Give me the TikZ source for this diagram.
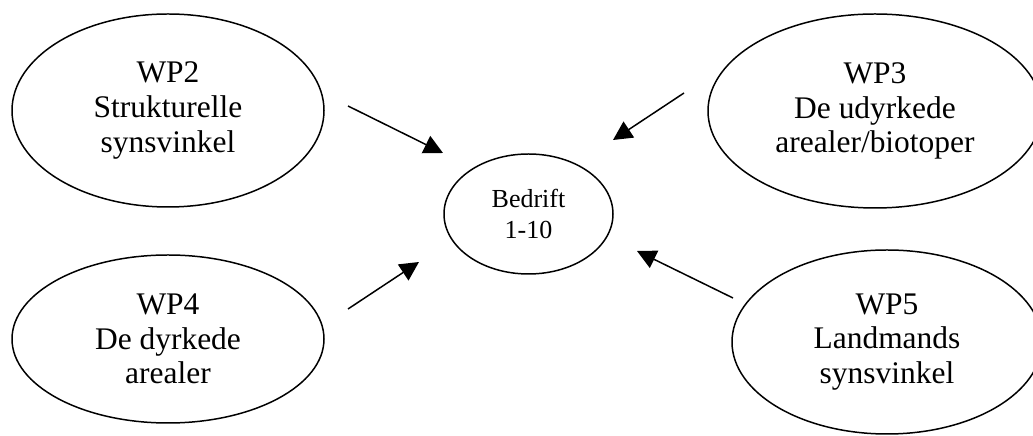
\documentclass[tikz,border=0pt]{standalone}
\usepackage{fontspec}
\setmainfont{Liberation Serif}
\usetikzlibrary{shapes.geometric,arrows.meta}

\begin{document}
\begin{tikzpicture}[
	elip/.style={draw, ellipse, line width=0.85pt, inner sep=0pt, align=center,
		font=\fontsize{17.9pt}{19.8pt}\selectfont},
	muiten/.style={line width=0.85pt, -{Triangle[length=3.8mm,width=3.8mm]}}
	]
	% Khung hình
	\useasboundingbox (0,0) rectangle (20.66,8.72);
	% Vẽ các hình elip WP
	\node[elip, minimum width=6.24cm, minimum height=3.86cm] (wp2) at (3.36,6.51) {WP2\\Strukturelle\\synsvinkel};
	\node[elip, minimum width=6.68cm, minimum height=3.88cm] (wp3) at (17.50,6.50) {WP3\\De udyrkede\\arealer/biotoper};
	\node[elip, minimum width=6.24cm, minimum height=3.36cm] (wp4) at (3.36,1.94) {WP4\\De dyrkede\\arealer};
	\node[elip, minimum width=6.20cm, minimum height=3.68cm] (wp5) at (17.74,1.88) {WP5\\Landmands\\synsvinkel};
	% Elip ở giữa
	\node[elip, minimum width=3.38cm, minimum height=2.40cm,
		font=\fontsize{14.8pt}{17.6pt}\selectfont] (bedrift) at (10.57,4.44) {Bedrift\\1-10};
	% Các điểm đầu và cuối mũi tên
	\coordinate (a2) at (6.96,6.60);  \coordinate (b2) at (8.86,5.66);
	\coordinate (a3) at (13.68,6.86); \coordinate (b3) at (12.26,5.92);
	\coordinate (a4) at (6.96,2.54);  \coordinate (b4) at (8.38,3.48);
	\coordinate (a5) at (14.66,2.76); \coordinate (b5) at (12.74,3.70);
	% Vẽ các mũi tên
	\draw[muiten] (a2) -- (b2);
	\draw[muiten] (a3) -- (b3);
	\draw[muiten] (a4) -- (b4);
	\draw[muiten] (a5) -- (b5);
\end{tikzpicture}
\end{document}
